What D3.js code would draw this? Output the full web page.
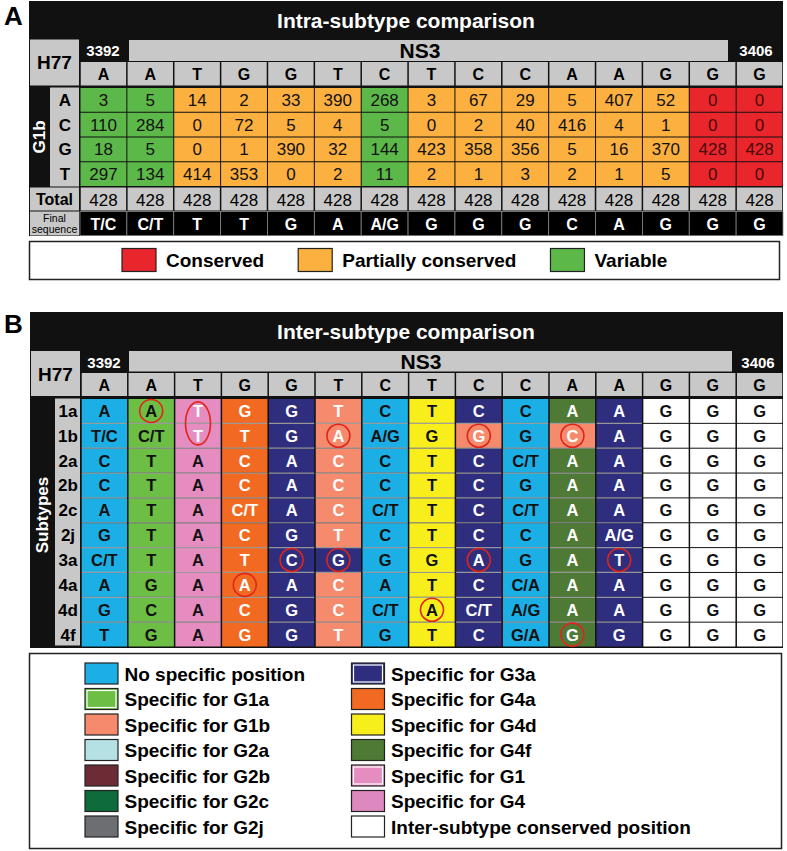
<!DOCTYPE html>
<html><head><meta charset="utf-8">
<script src="https://cdn.jsdelivr.net/npm/d3@7"></script>
<style>
body{margin:0;background:#fff}
svg{display:block}
text{font-family:"Liberation Sans",Arial,Helvetica,sans-serif}
</style>
</head><body>
<svg id="chart" width="787" height="851"></svg>
<script>
// ---------- DATA ----------
const h77Sequence = ["A","A","T","G","G","T","C","T","C","C","A","A","G","G","G"];
const nucleotides = ["A","C","G","T"];
const countA = [3,5,14,2,33,390,268,3,67,29,5,407,52,0,0];
const countC = [110,284,0,72,5,4,5,0,2,40,416,4,1,0,0];
const countG = [18,5,0,1,390,32,144,423,358,356,5,16,370,428,428];
const countT = [297,134,414,353,0,2,11,2,1,3,2,1,5,0,0];
const totals = [428,428,428,428,428,428,428,428,428,428,428,428,428,428,428];
const finalSequence = ["T/C","C/T","T","T","G","A","A/G","G","G","G","C","A","G","G","G"];
const intraClass = ["Variable","Variable","Partially conserved","Partially conserved","Partially conserved","Partially conserved","Variable","Partially conserved","Partially conserved","Partially conserved","Partially conserved","Partially conserved","Partially conserved","Conserved","Conserved"];
const intraLegend = ["Conserved","Partially conserved","Variable"];

const subtypes = ["1a","1b","2a","2b","2c","2j","3a","4a","4d","4f"];
const interSequence = [
  ["A","A","T","G","G","T","C","T","C","C","A","A","G","G","G"],
  ["T/C","C/T","T","T","G","A","A/G","G","G","G","C","A","G","G","G"],
  ["C","T","A","C","A","C","C","T","C","C/T","A","A","G","G","G"],
  ["C","T","A","C","A","C","C","T","C","G","A","A","G","G","G"],
  ["A","T","A","C/T","A","C","C/T","T","C","C/T","A","A","G","G","G"],
  ["G","T","A","C","G","T","C","T","C","C","A","A/G","G","G","G"],
  ["C/T","T","A","T","C","G","G","G","A","G","A","T","G","G","G"],
  ["A","G","A","A","A","C","A","T","C","C/A","A","A","G","G","G"],
  ["G","C","A","C","G","C","C/T","A","C/T","A/G","A","A","G","G","G"],
  ["T","G","A","G","G","T","G","T","C","G/A","G","G","G","G","G"]
];
const interSpecificity = [
  ["none","G1a","G1","G4a","G3a","G1b","none","G4d","G3a","none","G4f","G3a","cons","cons","cons"],
  ["none","G1a","G1","G4a","G3a","G1b","none","G4d","G1b","none","G1b","G3a","cons","cons","cons"],
  ["none","G1a","G1","G4a","G3a","G1b","none","G4d","G3a","none","G4f","G3a","cons","cons","cons"],
  ["none","G1a","G1","G4a","G3a","G1b","none","G4d","G3a","none","G4f","G3a","cons","cons","cons"],
  ["none","G1a","G1","G4a","G3a","G1b","none","G4d","G3a","none","G4f","G3a","cons","cons","cons"],
  ["none","G1a","G1","G4a","G3a","G1b","none","G4d","G3a","none","G4f","G3a","cons","cons","cons"],
  ["none","G1a","G1","G4a","G3a","G3a","none","G4d","G3a","none","G4f","G3a","cons","cons","cons"],
  ["none","G1a","G1","G4a","G3a","G1b","none","G4d","G3a","none","G4f","G3a","cons","cons","cons"],
  ["none","G1a","G1","G4a","G3a","G1b","none","G4d","G3a","none","G4f","G3a","cons","cons","cons"],
  ["none","G1a","G1","G4a","G3a","G1b","none","G4d","G3a","none","G4f","G3a","cons","cons","cons"]
];
// [column, subtype] of circled specific positions
const circledCells = [[1,"1a"],[5,"1b"],[8,"1b"],[10,"1b"],[4,"3a"],[5,"3a"],[8,"3a"],[11,"3a"],[3,"4a"],[7,"4d"],[10,"4f"]];
const circledGroup = [[2,"1a","1b"]];
const interLegendKeys = ["none","G1a","G1b","G2a","G2b","G2c","G2j","G3a","G4a","G4d","G4f","G1","G4","cons"];
const interLegendLabels = ["No specific position","Specific for G1a","Specific for G1b","Specific for G2a","Specific for G2b","Specific for G2c","Specific for G2j","Specific for G3a","Specific for G4a","Specific for G4d","Specific for G4f","Specific for G1","Specific for G4","Inter-subtype conserved position"];

// ---------- STYLE ----------
const GRAY = "#c8c8c8";
const intraColor = d3.scaleOrdinal().domain(intraLegend).range(["#e9262c","#fbb03f","#5db84a"]);
const interColor = d3.scaleOrdinal().domain(interLegendKeys).range([
  "#1cafe6","#6dbe45","#f58b6c","#b5e0e4","#6b2c36","#0e6b3b","#6d6e71",
  "#2f2e7e","#f26a21","#f7ee1b","#4f7a36","#e58cc1","#df88bf","#ffffff"]);
const darkKeys = new Set(["G1b","G3a","G4a","G4f","G2b","G2c","G2j"]);
const innerBorderKeys = new Set(["G1a","G3a","G1"]);

const svg = d3.select("#chart");
const bold = s => s.attr("font-weight","bold");

// ================= PANEL A =================
svg.append("text").attr("x",4).attr("y",25).attr("font-size",26).attr("font-weight","bold").text("A");
const gA = svg.append("g");
const xA = d3.scaleBand().domain(d3.range(15)).range([80,783]);
const yA = d3.scaleBand().domain(nucleotides).range([87.5,186.5]);
const countsByBase = {A:countA,C:countC,G:countG,T:countT};

gA.append("rect").attr("x",29).attr("y",1).attr("width",754).attr("height",235).attr("fill","#111");
gA.append("text").attr("x",406).attr("y",28).attr("text-anchor","middle").attr("font-size",21)
  .attr("font-weight","bold").attr("fill","#fff").text("Intra-subtype comparison");
gA.append("rect").attr("x",30).attr("y",39.5).attr("width",49).attr("height",46).attr("fill",GRAY);
gA.append("text").attr("x",54.5).attr("y",69).attr("text-anchor","middle").attr("font-size",19).attr("font-weight","bold").text("H77");
gA.append("text").attr("x",103).attr("y",56).attr("text-anchor","middle").attr("font-size",15).attr("font-weight","bold").attr("fill","#fff").text("3392");
gA.append("rect").attr("x",129).attr("y",40).attr("width",599).attr("height",21).attr("fill",GRAY);
gA.append("text").attr("x",420).attr("y",58).attr("text-anchor","middle").attr("font-size",21).attr("font-weight","bold").text("NS3");
gA.append("text").attr("x",756).attr("y",56).attr("text-anchor","middle").attr("font-size",15).attr("font-weight","bold").attr("fill","#fff").text("3406");

// header letters
const hA = gA.selectAll(".hA").data(h77Sequence).join("g");
hA.append("rect").attr("x",(d,i)=>xA(i)+0.75).attr("y",62).attr("width",xA.bandwidth()-1.5).attr("height",23.5).attr("fill",GRAY);
hA.append("text").attr("x",(d,i)=>xA(i)+xA.bandwidth()/2).attr("y",80).attr("text-anchor","middle")
  .attr("font-size",16).attr("font-weight","bold").text(d=>d);

// letter column + G1b
gA.append("rect").attr("x",50).attr("y",87.5).attr("width",29).attr("height",99).attr("fill",GRAY);
gA.selectAll(".nl").data(nucleotides).join("text").attr("x",65).attr("y",d=>yA(d)+yA.bandwidth()/2+6)
  .attr("text-anchor","middle").attr("font-size",17).attr("font-weight","bold").text(d=>d);
gA.append("text").attr("transform","translate(45,137) rotate(-90)").attr("text-anchor","middle")
  .attr("font-size",17).attr("font-weight","bold").attr("fill","#fff").text("G1b");

// count cells
const cellsA = [];
nucleotides.forEach(b=>countsByBase[b].forEach((v,i)=>cellsA.push({b,i,v})));
const cA = gA.selectAll(".cA").data(cellsA).join("g");
cA.append("rect").attr("x",d=>xA(d.i)+0.5).attr("y",d=>yA(d.b)+0.5).attr("width",xA.bandwidth()-1)
  .attr("height",yA.bandwidth()-1).attr("fill",d=>intraColor(intraClass[d.i]));
cA.append("text").attr("x",d=>xA(d.i)+xA.bandwidth()/2).attr("y",d=>yA(d.b)+yA.bandwidth()/2+6)
  .attr("text-anchor","middle").attr("font-size",17)
  .attr("fill",d=>intraClass[d.i]==="Conserved"?"#4a0a0a":"#111").text(d=>d.v);

// totals
gA.append("rect").attr("x",30).attr("y",187.5).attr("width",49).attr("height",23).attr("fill",GRAY);
gA.append("text").attr("x",54.5).attr("y",205).attr("text-anchor","middle").attr("font-size",16).attr("font-weight","bold").text("Total");
const tA = gA.selectAll(".tA").data(totals).join("g");
tA.append("rect").attr("x",(d,i)=>xA(i)+0.75).attr("y",187.5).attr("width",xA.bandwidth()-1.5).attr("height",23).attr("fill",GRAY);
tA.append("text").attr("x",(d,i)=>xA(i)+xA.bandwidth()/2).attr("y",206).attr("text-anchor","middle").attr("font-size",17).text(d=>d);

// final sequence
gA.append("rect").attr("x",30).attr("y",211.5).attr("width",49).attr("height",24).attr("fill",GRAY);
gA.append("text").attr("x",54.5).attr("y",221.5).attr("text-anchor","middle").attr("font-size",10.5).text("Final");
gA.append("text").attr("x",54.5).attr("y",232.5).attr("text-anchor","middle").attr("font-size",10.5).text("sequence");
const fA = gA.selectAll(".fA").data(finalSequence).join("g");
fA.append("rect").attr("x",(d,i)=>xA(i)).attr("y",211.5).attr("width",xA.bandwidth()).attr("height",24)
  .attr("fill","#000").attr("stroke","#8a8a8a").attr("stroke-width",0.8);
fA.append("text").attr("x",(d,i)=>xA(i)+xA.bandwidth()/2).attr("y",229.5).attr("text-anchor","middle")
  .attr("font-size",16).attr("font-weight","bold").attr("fill","#fff").text(d=>d);

// legend A
gA.append("rect").attr("x",29.5).attr("y",241.5).attr("width",750).attr("height",38).attr("fill","#fff").attr("stroke","#222").attr("stroke-width",1.5);
{
  let lx = 122;
  intraLegend.forEach(k=>{
    gA.append("rect").attr("x",lx).attr("y",248.5).attr("width",34).attr("height",23).attr("fill",intraColor(k)).attr("stroke","#222").attr("stroke-width",1.2);
    const t = gA.append("text").attr("x",lx+44).attr("y",267).attr("font-size",19).attr("font-weight","bold").text(k);
    lx = lx + 44 + t.node().getComputedTextLength() + 34;
  });
}

// ================= PANEL B =================
svg.append("text").attr("x",4).attr("y",333).attr("font-size",26).attr("font-weight","bold").text("B");
const gB = svg.append("g");
const xB = d3.scaleBand().domain(d3.range(15)).range([81,783]);
const yB = d3.scaleBand().domain(subtypes).range([398.5,647]);

gB.append("rect").attr("x",30).attr("y",312).attr("width",753).attr("height",336).attr("fill","#111");
gB.append("text").attr("x",406).attr("y",339).attr("text-anchor","middle").attr("font-size",21)
  .attr("font-weight","bold").attr("fill","#fff").text("Inter-subtype comparison");
gB.append("rect").attr("x",31).attr("y",351).attr("width",49).attr("height",45).attr("fill",GRAY);
gB.append("text").attr("x",55.5).attr("y",381).attr("text-anchor","middle").attr("font-size",19).attr("font-weight","bold").text("H77");
gB.append("text").attr("x",104).attr("y",368).attr("text-anchor","middle").attr("font-size",15).attr("font-weight","bold").attr("fill","#fff").text("3392");
gB.append("rect").attr("x",129).attr("y",351).attr("width",603).attr("height",20.5).attr("fill",GRAY);
gB.append("text").attr("x",421).attr("y",369).attr("text-anchor","middle").attr("font-size",21).attr("font-weight","bold").text("NS3");
gB.append("text").attr("x",758).attr("y",368).attr("text-anchor","middle").attr("font-size",15).attr("font-weight","bold").attr("fill","#fff").text("3406");

const hB = gB.selectAll(".hB").data(h77Sequence).join("g");
hB.append("rect").attr("x",(d,i)=>xB(i)+0.75).attr("y",373).attr("width",xB.bandwidth()-1.5).attr("height",23).attr("fill",GRAY);
hB.append("text").attr("x",(d,i)=>xB(i)+xB.bandwidth()/2).attr("y",391).attr("text-anchor","middle")
  .attr("font-size",16).attr("font-weight","bold").text(d=>d);

gB.append("rect").attr("x",55).attr("y",398.5).attr("width",25).attr("height",247).attr("fill",GRAY);
gB.selectAll(".sl").data(subtypes).join("text").attr("x",68).attr("y",d=>yB(d)+yB.bandwidth()/2+6)
  .attr("text-anchor","middle").attr("font-size",17).attr("font-weight","bold").text(d=>d);
gB.append("text").attr("transform","translate(48,515) rotate(-90)").attr("text-anchor","middle")
  .attr("font-size",17).attr("font-weight","bold").attr("fill","#fff").text("Subtypes");

const cellsB = [];
subtypes.forEach((s,r)=>interSequence[r].forEach((v,i)=>cellsB.push({s,i,v,k:interSpecificity[r][i]})));
const cB = gB.selectAll(".cB").data(cellsB).join("g");
cB.append("rect").attr("x",d=>xB(d.i)+0.75).attr("y",d=>yB(d.s)+0.5).attr("width",xB.bandwidth()-1.5)
  .attr("height",yB.bandwidth()-1).attr("fill",d=>interColor(d.k));
// light row separators inside coloured columns
cB.filter(d=>d.k!=="cons" && d.s!==subtypes[0]).append("line")
  .attr("x1",d=>xB(d.i)+0.75).attr("x2",d=>xB(d.i)+xB.bandwidth()-0.75)
  .attr("y1",d=>yB(d.s)).attr("y2",d=>yB(d.s)).attr("stroke","#fff").attr("stroke-opacity",0.55).attr("stroke-width",1.2);
cB.append("text").attr("x",d=>xB(d.i)+xB.bandwidth()/2).attr("y",d=>yB(d.s)+yB.bandwidth()/2+6)
  .attr("text-anchor","middle").attr("font-size",16.5).attr("font-weight","bold")
  .attr("fill",d=>{
    if(d.k==="G1") return d.s.startsWith("1")?"#fff":"#111";
    return darkKeys.has(d.k)?"#fff":"#111";
  }).text(d=>d.v);

gB.selectAll(".circ").data(circledCells).join("circle")
  .attr("cx",d=>xB(d[0])+xB.bandwidth()/2).attr("cy",d=>yB(d[1])+yB.bandwidth()/2)
  .attr("r",11.5).attr("fill","none").attr("stroke","#e2231a").attr("stroke-width",1.6);
gB.selectAll(".oval").data(circledGroup).join("ellipse")
  .attr("cx",d=>xB(d[0])+xB.bandwidth()/2)
  .attr("cy",d=>(yB(d[1])+yB(d[2])+yB.bandwidth())/2)
  .attr("rx",12.5).attr("ry",21.5).attr("fill","none").attr("stroke","#e2231a").attr("stroke-width",1.6);

// legend B
gB.append("rect").attr("x",29.5).attr("y",653.5).attr("width",752).attr("height",195).attr("fill","#fff").attr("stroke","#222").attr("stroke-width",1.5);
const legB = gB.selectAll(".lb").data(interLegendKeys).join("g")
  .attr("transform",(d,i)=>`translate(${i<7?85:351.5},${663+(i%7)*25.5})`);
legB.append("rect").attr("width",33).attr("height",21).attr("fill",d=>interColor(d)).attr("stroke","#222").attr("stroke-width",1.2);
legB.filter(d=>innerBorderKeys.has(d)).append("rect").attr("x",2).attr("y",2).attr("width",29).attr("height",17)
  .attr("fill","none").attr("stroke","#fff").attr("stroke-width",1.2);
legB.append("text").attr("x",39.5).attr("y",17.5).attr("font-size",19).attr("font-weight","bold")
  .text((d,i)=>interLegendLabels[i]);
</script>
</body></html>
